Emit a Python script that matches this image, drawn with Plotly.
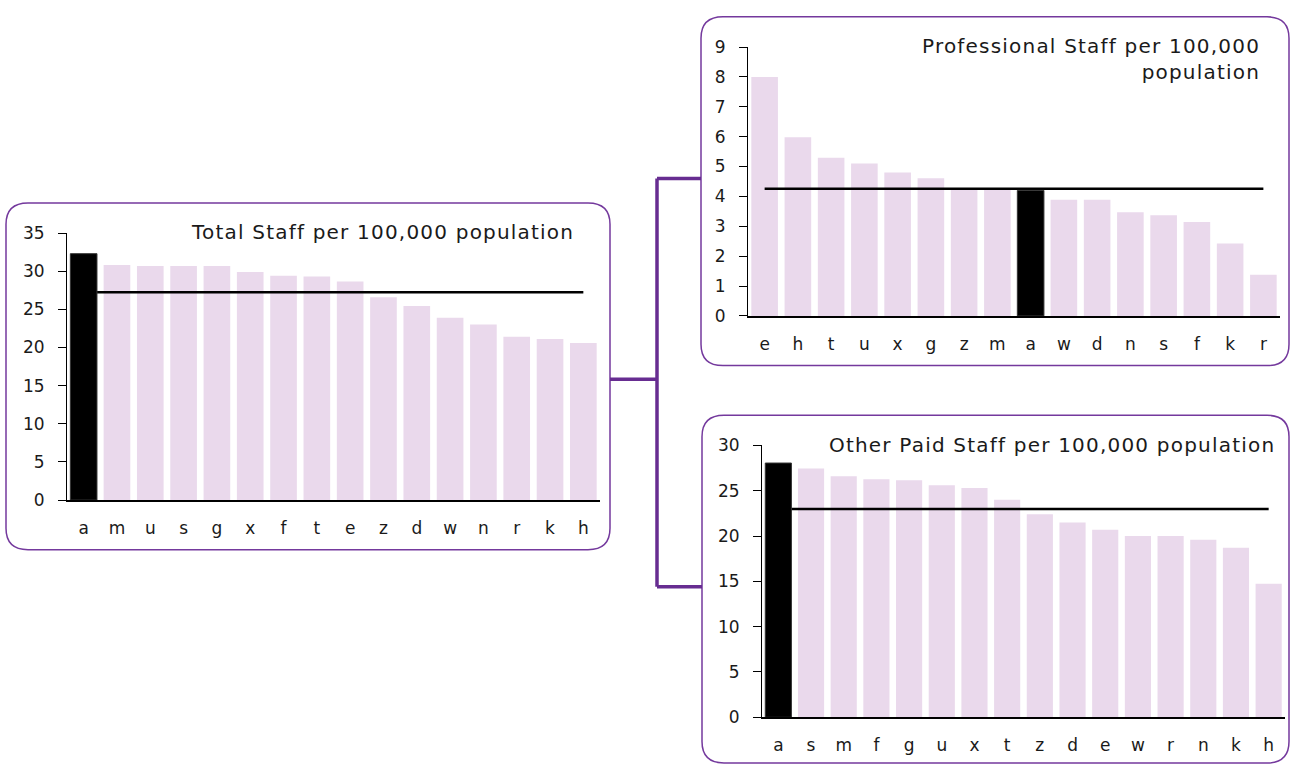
import plotly.graph_objects as go

# ---------------- data ----------------
total_cats = ["a", "m", "u", "s", "g", "x", "f", "t", "e", "z", "d", "w", "n", "r", "k", "h"]
total_vals = [32.3, 30.8, 30.7, 30.7, 30.7, 29.9, 29.4, 29.3, 28.65, 26.6, 25.45, 23.9, 23.0, 21.4, 21.1, 20.6]
total_avg = 27.25

prof_cats = ["e", "h", "t", "u", "x", "g", "z", "m", "a", "w", "d", "n", "s", "f", "k", "r"]
prof_vals = [8.0, 5.98, 5.29, 5.10, 4.80, 4.61, 4.25, 4.25, 4.20, 3.89, 3.89, 3.47, 3.37, 3.14, 2.42, 1.38]
prof_avg = 4.26

other_cats = ["a", "s", "m", "f", "g", "u", "x", "t", "z", "d", "e", "w", "r", "n", "k", "h"]
other_vals = [28.06, 27.45, 26.6, 26.27, 26.16, 25.6, 25.3, 24.0, 22.4, 21.5, 20.7, 20.0, 20.0, 19.6, 18.7, 14.75]
other_avg = 23.0

highlight = "a"

titles = [
    "Total Staff per 100,000 population",
    "Professional Staff per 100,000<br>population",
    "Other Paid Staff per 100,000 population",
]
y_ranges = [[0, 35], [0, 9], [0, 30]]
y_dticks = [5, 1, 5]

# ---------------- layout constants ----------------
W, H = 1291, 775
PINK = "#ead9ec"
BOX = "#74399d"
CONN = "#672d91"
FONT = "DejaVu Sans"
TXT = "#1a1a1a"


def px_x(p):
    return p / W


def px_y(p):
    return 1 - p / H


# plot areas in pixels: (x0, x1, ybottom, ytop)
areas = [
    (67, 600, 503, 229),
    (748, 1280, 314, 38),
    (762, 1285, 726, 447),
]
title_pos = [(576, 228), (1262, 50), (1277, 447)]

fig = go.Figure()
layout = dict(
    width=W, height=H,
    margin=dict(l=0, r=0, t=0, b=0),
    paper_bgcolor="white", plot_bgcolor="rgba(0,0,0,0)",
    showlegend=False, bargap=0.2,
    font=dict(family=FONT, color=TXT),
)

panels = [
    (total_cats, total_vals, total_avg),
    (prof_cats, prof_vals, prof_avg),
    (other_cats, other_vals, other_avg),
]

annotations = []
for i, (cats, vals, avg) in enumerate(panels):
    n = i + 1
    ov = i + 4
    idx = list(range(len(cats)))
    xa = "x" if n == 1 else f"x{n}"
    ya = "y" if n == 1 else f"y{n}"
    pink_y = [v if c != highlight else None for c, v in zip(cats, vals)]
    black_y = [v if c == highlight else None for c, v in zip(cats, vals)]

    fig.add_trace(go.Bar(x=idx, y=pink_y, marker=dict(color=PINK, line=dict(width=0)),
                         xaxis=xa, yaxis=ya, hoverinfo="skip"))
    fig.add_trace(go.Scatter(x=[idx[0], idx[-1]], y=[avg, avg], mode="lines",
                             line=dict(color="black", width=2.5),
                             xaxis=xa, yaxis=ya, hoverinfo="skip"))
    fig.add_trace(go.Bar(x=idx, y=black_y, marker=dict(color="black", line=dict(width=1, color="#333")),
                         xaxis=f"x{ov}", yaxis=f"y{ov}", hoverinfo="skip"))

    x0, x1, yb, yt = areas[i]
    xrange = [-0.5, len(cats) - 0.5]
    layout[f"xaxis{'' if n == 1 else n}"] = dict(
        domain=[px_x(x0), px_x(x1)], anchor=ya, range=xrange,
        tickmode="array", tickvals=idx, ticktext=cats,
        showline=True, linecolor="black", linewidth=1.5,
        ticks="outside", ticklen=12, tickcolor="rgba(0,0,0,0)",
        tickfont=dict(size=17, family=FONT, color=TXT),
        showgrid=False, zeroline=False, fixedrange=True,
    )
    layout[f"yaxis{'' if n == 1 else n}"] = dict(
        domain=[px_y(yb), px_y(yt)], anchor=xa, range=y_ranges[i], dtick=y_dticks[i],
        showline=True, linecolor="black", linewidth=1,
        ticks="outside", ticklen=8, tickcolor="black", tickwidth=1,
        tickfont=dict(size=17, family=FONT, color=TXT), ticklabelstandoff=10,
        showgrid=False, zeroline=False, fixedrange=True,
    )
    layout[f"xaxis{ov}"] = dict(overlaying=xa, range=xrange, visible=False, fixedrange=True)
    layout[f"yaxis{ov}"] = dict(overlaying=ya, range=y_ranges[i], visible=False, fixedrange=True)

    tx, ty = title_pos[i]
    annotations.append(dict(
        xref="paper", yref="paper", x=px_x(tx), y=px_y(ty), xanchor="right", yanchor="middle",
        align="right", showarrow=False,
        text=f'<span style="letter-spacing:1.2px">{titles[i]}</span>',
        font=dict(size=20, family=FONT, color=TXT),
    ))


def rounded_rect(x0, y0, x1, y1, r):
    ry = r / H
    rx = r / W
    X0, X1 = px_x(x0), px_x(x1)
    Y0, Y1 = px_y(y0), px_y(y1)  # Y0 top (larger), Y1 bottom
    return (f"M {X0 + rx},{Y0} L {X1 - rx},{Y0} Q {X1},{Y0} {X1},{Y0 - ry} "
            f"L {X1},{Y1 + ry} Q {X1},{Y1} {X1 - rx},{Y1} "
            f"L {X0 + rx},{Y1} Q {X0},{Y1} {X0},{Y1 + ry} "
            f"L {X0},{Y0 - ry} Q {X0},{Y0} {X0 + rx},{Y0} Z")


shapes = []
for (bx0, by0, bx1, by1) in [(6, 198, 610, 554), (701, 7, 1289, 365), (702, 416, 1289, 773)]:
    shapes.append(dict(type="path", xref="paper", yref="paper",
                       path=rounded_rect(bx0, by0, bx1, by1, 22),
                       line=dict(color=BOX, width=1.5), fillcolor="rgba(0,0,0,0)", layer="below"))

for (ax, ay, bx, by) in [(610, 379, 657, 379), (657, 173, 657, 592), (657, 173, 701, 173), (657, 592, 702, 592)]:
    shapes.append(dict(type="line", xref="paper", yref="paper",
                       x0=px_x(ax), y0=px_y(ay), x1=px_x(bx), y1=px_y(by),
                       line=dict(color=CONN, width=3.5)))

layout["shapes"] = shapes
layout["annotations"] = annotations
fig.update_layout(**layout)
fig.write_html("out.html",
               config={"displayModeBar": False},
               post_script="document.body.style.margin='0';document.body.style.overflow='hidden';")
